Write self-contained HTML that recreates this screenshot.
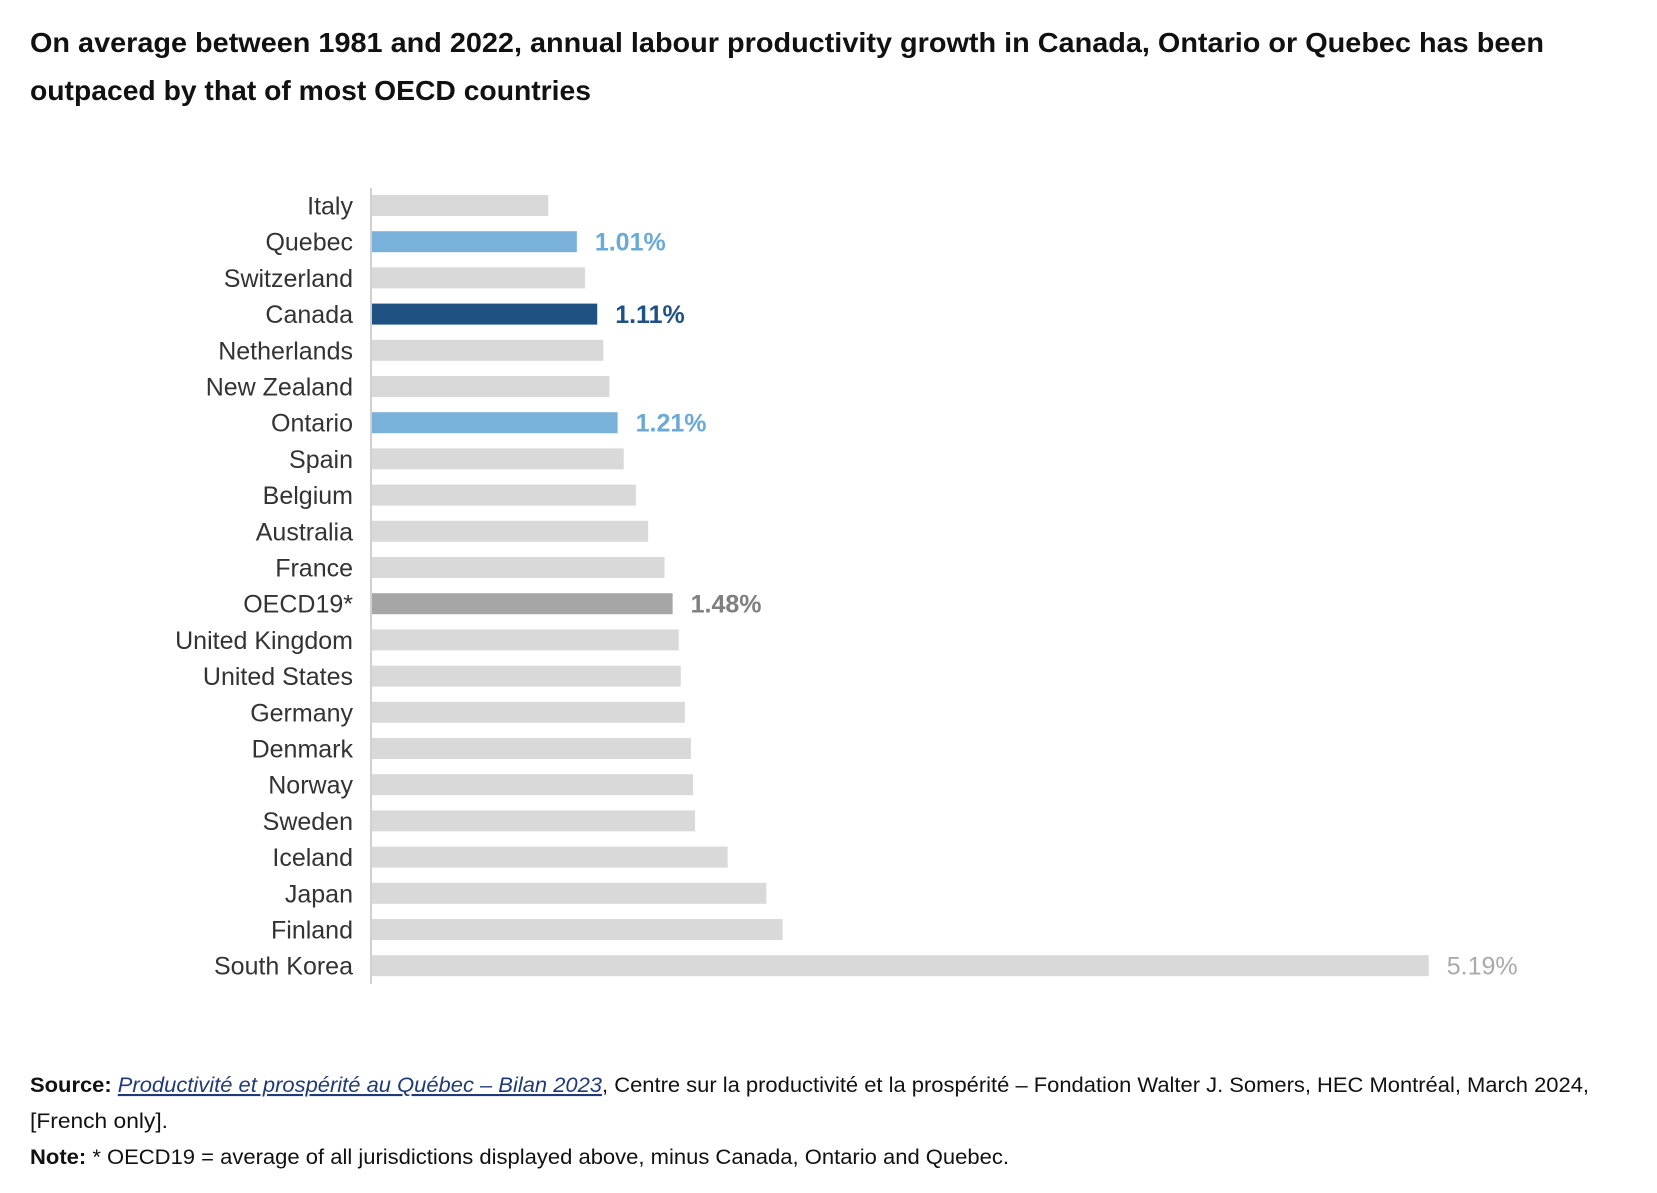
<!DOCTYPE html>
<html><head><meta charset="utf-8"><style>
html,body{margin:0;padding:0;background:#fff;}
svg{display:block;}
</style></head><body>
<svg id="chart" width="1657" height="1193" viewBox="0 0 1657 1193" xmlns="http://www.w3.org/2000/svg">
<g font-family="'Liberation Sans', sans-serif" font-weight="bold" font-size="28" fill="#111">
<text x="30" y="52" textLength="1514" lengthAdjust="spacingAndGlyphs">On average between 1981 and 2022, annual labour productivity growth in Canada, Ontario or Quebec has been</text>
<text x="30" y="100" textLength="561" lengthAdjust="spacingAndGlyphs">outpaced by that of most OECD countries</text>
</g>
<g id="bars"></g>
<line x1="371" y1="188" x2="371" y2="984" stroke="#d0d0d0" stroke-width="2"/>
<g font-family="'Liberation Sans', sans-serif" font-size="21" fill="#111">
<text x="30" y="1092" textLength="1559" lengthAdjust="spacingAndGlyphs"><tspan font-weight="bold">Source:</tspan> <tspan fill="#1f3a7a" font-style="italic" text-decoration="underline">Productivité et prospérité au Québec – Bilan 2023</tspan>, Centre sur la productivité et la prospérité – Fondation Walter J. Somers, HEC Montréal, March 2024,</text>
<text x="30" y="1128" textLength="138" lengthAdjust="spacingAndGlyphs">[French only].</text>
<text x="30" y="1164" textLength="979" lengthAdjust="spacingAndGlyphs"><tspan font-weight="bold">Note:</tspan> * OECD19 = average of all jurisdictions displayed above, minus Canada, Ontario and Quebec.</text>
</g>
</svg>
<script>
const categories = ["Italy","Quebec","Switzerland","Canada","Netherlands","New Zealand","Ontario","Spain","Belgium","Australia","France","OECD19*","United Kingdom","United States","Germany","Denmark","Norway","Sweden","Iceland","Japan","Finland","South Korea"];
const values = [0.87,1.01,1.05,1.11,1.14,1.17,1.21,1.24,1.30,1.36,1.44,1.48,1.51,1.52,1.54,1.57,1.58,1.59,1.75,1.94,2.02,5.19];
const labelled = ["Quebec","Canada","Ontario","OECD19*","South Korea"];
const NS = "http://www.w3.org/2000/svg";
const x0 = 371, pxPer = 203.8;
const xScale = v => x0 + v * pxPer;
const yTop = 195, step = 36.2, barH = 21;
const yScale = i => yTop + i * step;
function colorFor(c){
  if (c === "Canada") return ["#1f5283","#1f5283"];
  if (c === "Quebec" || c === "Ontario") return ["#79b1da","#6aaad8"];
  if (c === "OECD19*") return ["#a6a6a6","#7f7f7f"];
  return ["#d9d9d9","#aaaaaa"];
}
const g = document.getElementById("bars");
categories.forEach((c, i) => {
  const y = yScale(i);
  const [fill, lc] = colorFor(c);
  const r = document.createElementNS(NS, "rect");
  
  
  r.setAttribute("x", x0);
  r.setAttribute("y", y);
  r.setAttribute("width", xScale(values[i]) - x0);
  r.setAttribute("height", barH);
  r.setAttribute("fill", fill);
  g.appendChild(r);
  const t = document.createElementNS(NS, "text");
  
  
  t.setAttribute("x", 353);
  t.setAttribute("y", y + barH / 2 + 9);
  t.setAttribute("text-anchor", "end");
  t.setAttribute("font-family", "'Liberation Sans', sans-serif");
  t.setAttribute("font-size", "25");
  t.setAttribute("fill", "#333");
  t.textContent = c;
  g.appendChild(t);
  if (labelled.includes(c)) {
    const v = document.createElementNS(NS, "text");
    
    
    v.setAttribute("x", xScale(values[i]) + 18);
    v.setAttribute("y", y + barH / 2 + 9);
    v.setAttribute("font-family", "'Liberation Sans', sans-serif");
    v.setAttribute("font-size", "25");
    if (c !== "South Korea") v.setAttribute("font-weight", "bold");
    v.setAttribute("fill", lc);
    v.textContent = values[i].toFixed(2) + "%";
    g.appendChild(v);
  }
});
</script>
</body></html>
